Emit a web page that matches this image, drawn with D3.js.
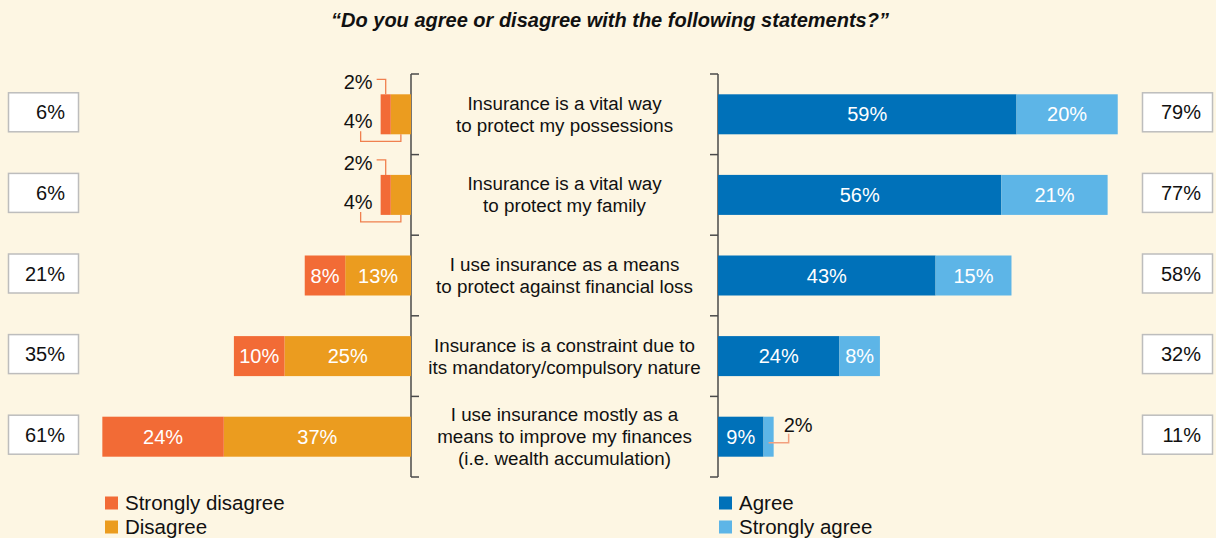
<!DOCTYPE html>
<html>
<head>
<meta charset="utf-8">
<script src="https://cdn.jsdelivr.net/npm/d3@7"></script>
<style>
  html, body { margin: 0; padding: 0; background: #fdf6e3; }
  svg { display: block; font-family: "Liberation Sans", Arial, Helvetica, sans-serif; }
</style>
</head>
<body>
<svg id="chart" width="1216" height="538"></svg>
<script>
// ---- Data ----
const title = "\u201CDo you agree or disagree with the following statements?\u201D";
const categories = [
  ["Insurance is a vital way", "to protect my possessions"],
  ["Insurance is a vital way", "to protect my family"],
  ["I use insurance as a means", "to protect against financial loss"],
  ["Insurance is a constraint due to", "its mandatory/compulsory nature"],
  ["I use insurance mostly as a", "means to improve my finances", "(i.e. wealth accumulation)"]
];
const stronglyDisagree = [2, 2, 8, 10, 24];
const disagree = [4, 4, 13, 25, 37];
const agree = [59, 56, 43, 24, 9];
const stronglyAgree = [20, 21, 15, 8, 2];
const totalDisagree = [6, 6, 21, 35, 61];
const totalAgree = [79, 77, 58, 32, 11];
const legendLeft = ["Strongly disagree", "Disagree"];
const legendRight = ["Agree", "Strongly agree"];

// ---- Styles ----
const C = {
  sd: "#f26b36", d: "#eb9c1f", a: "#0071b9", sa: "#5db5e7",
  bracket: "#4a4a4a", text: "#111", leaderL: "#f0804f", leaderR: "#f3a07e"
};

const svg = d3.select("#chart");
const keys = categories.map((c, i) => "c" + i);

const y = d3.scaleBand().domain(keys).range([74, 477]).paddingInner(0);
const barH = 40;
const barTop = k => y(k) + (y.bandwidth() - barH) / 2;
const mid = k => y(k) + y.bandwidth() / 2;

const xs = d3.scaleLinear().domain([0, 100]).range([0, 506]);
const leftZero = 411, rightZero = 718;
const xL = v => leftZero - xs(v);
const xR = v => rightZero + xs(v);

// Title
svg.append("text")
  .attr("x", 610).attr("y", 27)
  .attr("text-anchor", "middle")
  .attr("font-size", 20).attr("font-weight", "bold").attr("font-style", "italic")
  .attr("fill", C.text)
  .text(title);

// Brackets
const bounds = keys.map(k => y(k)).concat([y(keys[keys.length - 1]) + y.bandwidth()]);
const br = svg.append("g").attr("stroke", C.bracket).attr("stroke-width", 1.5).attr("fill", "none");
br.append("line").attr("x1", leftZero).attr("x2", leftZero).attr("y1", bounds[0]).attr("y2", bounds[bounds.length - 1]);
br.append("line").attr("x1", rightZero).attr("x2", rightZero).attr("y1", bounds[0]).attr("y2", bounds[bounds.length - 1]);
br.selectAll("line.tl").data(bounds).enter().append("line").attr("class", "tl")
  .attr("x1", leftZero).attr("x2", leftZero + 8).attr("y1", d => d).attr("y2", d => d);
br.selectAll("line.tr").data(bounds).enter().append("line").attr("class", "tr")
  .attr("x1", rightZero - 8).attr("x2", rightZero).attr("y1", d => d).attr("y2", d => d);

// Category labels
const catG = svg.append("g").attr("font-size", 18.8).attr("fill", C.text).attr("text-anchor", "middle");
categories.forEach((lines, i) => {
  const k = keys[i];
  const lh = 22;
  const start = mid(k) - (lines.length - 1) * lh / 2;
  lines.forEach((ln, j) => {
    catG.append("text").attr("x", (leftZero + rightZero) / 2).attr("y", start + j * lh)
      .attr("dy", "0.35em").text(ln);
  });
});

// Bars
const rows = keys.map((k, i) => ({ k, i, sd: stronglyDisagree[i], d: disagree[i], a: agree[i], sa: stronglyAgree[i] }));
const barsG = svg.append("g");
barsG.selectAll("rect.d").data(rows).enter().append("rect")
  .attr("x", r => xL(r.d)).attr("y", r => barTop(r.k)).attr("width", r => xs(r.d)).attr("height", barH).attr("fill", C.d);
barsG.selectAll("rect.sd").data(rows).enter().append("rect")
  .attr("x", r => xL(r.d + r.sd)).attr("y", r => barTop(r.k)).attr("width", r => xs(r.sd)).attr("height", barH).attr("fill", C.sd);
barsG.selectAll("rect.a").data(rows).enter().append("rect")
  .attr("x", rightZero).attr("y", r => barTop(r.k)).attr("width", r => xs(r.a)).attr("height", barH).attr("fill", C.a);
barsG.selectAll("rect.sa").data(rows).enter().append("rect")
  .attr("x", r => xR(r.a)).attr("y", r => barTop(r.k)).attr("width", r => xs(r.sa)).attr("height", barH).attr("fill", C.sa);

// Segment labels
const lab = svg.append("g").attr("font-size", 20);
const minW = 30;
rows.forEach(r => {
  const cy = mid(r.k), top = barTop(r.k), bot = top + barH;
  const sdX0 = xL(r.d + r.sd), sdX1 = xL(r.d);
  const dX0 = xL(r.d), dX1 = leftZero;
  if (xs(r.sd) >= minW) {
    lab.append("text").attr("x", (sdX0 + sdX1) / 2).attr("y", cy).attr("dy", "0.35em")
      .attr("text-anchor", "middle").attr("fill", "#fff").text(r.sd + "%");
  } else {
    const lx = sdX0 - 8;
    lab.append("text").attr("x", lx).attr("y", top - 12).attr("dy", "0.35em")
      .attr("text-anchor", "end").attr("fill", C.text).text(r.sd + "%");
    const sx = (sdX0 + sdX1) / 2;
    lab.append("path").attr("fill", "none").attr("stroke", C.leaderL).attr("stroke-width", 1.3)
      .attr("d", `M${lx + 4},${top - 15}H${sx}V${top}`);
  }
  if (xs(r.d) >= minW) {
    lab.append("text").attr("x", (dX0 + dX1) / 2).attr("y", cy).attr("dy", "0.35em")
      .attr("text-anchor", "middle").attr("fill", "#fff").text(r.d + "%");
  } else {
    const lx = sdX0 - 8;
    lab.append("text").attr("x", lx).attr("y", cy + 7).attr("dy", "0.35em")
      .attr("text-anchor", "end").attr("fill", C.text).text(r.d + "%");
    const tx = lx - 12, dx = (dX0 + dX1) / 2;
    lab.append("path").attr("fill", "none").attr("stroke", C.leaderL).attr("stroke-width", 1.3)
      .attr("d", `M${tx},${cy + 17}V${bot + 7}H${dx}V${bot}`);
  }
  if (xs(r.a) >= minW) {
    lab.append("text").attr("x", (rightZero + xR(r.a)) / 2).attr("y", cy).attr("dy", "0.35em")
      .attr("text-anchor", "middle").attr("fill", "#fff").text(r.a + "%");
  }
  const saX0 = xR(r.a), saX1 = xR(r.a + r.sa);
  if (xs(r.sa) >= minW) {
    lab.append("text").attr("x", (saX0 + saX1) / 2).attr("y", cy).attr("dy", "0.35em")
      .attr("text-anchor", "middle").attr("fill", "#fff").text(r.sa + "%");
  } else {
    const lx = saX1 + 10;
    lab.append("text").attr("x", lx).attr("y", cy - 12).attr("dy", "0.35em")
      .attr("text-anchor", "start").attr("fill", C.text).text(r.sa + "%");
    lab.append("path").attr("fill", "none").attr("stroke", C.leaderR).attr("stroke-width", 1.5)
      .attr("d", `M${(saX0 + saX1) / 2},${cy + 6}H${lx + 5}V${cy - 3}`);
  }
});

// Total boxes
const boxes = svg.append("g");
function totalBox(x0, w, textX, k, val) {
  const cy = mid(k) - 2;
  boxes.append("rect").attr("x", x0).attr("y", cy - 19.5).attr("width", w).attr("height", 39)
    .attr("fill", "#fff").attr("stroke", "#bdbdbd").attr("stroke-width", 1.5);
  boxes.append("text").attr("x", textX).attr("y", cy).attr("dy", "0.35em")
    .attr("text-anchor", "end").attr("font-size", 20).attr("fill", C.text).text(val + "%");
}
keys.forEach((k, i) => {
  totalBox(8.5, 70, 65, k, totalDisagree[i]);
  totalBox(1142.5, 70, 1201, k, totalAgree[i]);
});

// Legend
const leg = svg.append("g").attr("font-size", 20.5).attr("fill", C.text);
function legendItem(x, yy, color, label) {
  leg.append("rect").attr("x", x).attr("y", yy - 6.5).attr("width", 13).attr("height", 13).attr("fill", color);
  leg.append("text").attr("x", x + 20).attr("y", yy).attr("dy", "0.35em").text(label);
}
legendItem(105, 503, C.sd, legendLeft[0]);
legendItem(105, 527, C.d, legendLeft[1]);
legendItem(719, 503, C.a, legendRight[0]);
legendItem(719, 527, C.sa, legendRight[1]);
</script>
</body>
</html>
